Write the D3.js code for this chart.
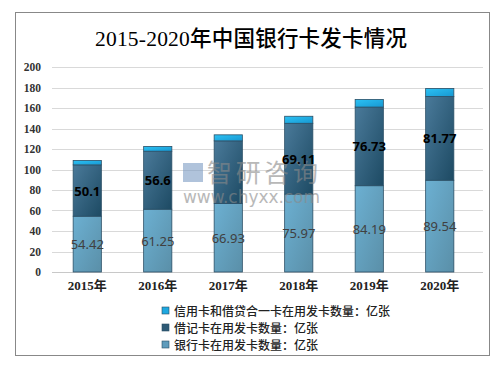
<!DOCTYPE html>
<html><head><meta charset="utf-8">
<script src="https://cdn.jsdelivr.net/npm/d3@7"></script>
<style>body{margin:0;background:#fff}</style>
</head><body>
<svg id="c" width="502" height="367"></svg>
<script>
const years = ["2015年","2016年","2017年","2018年","2019年","2020年"];
const bankCards = [54.42, 61.25, 66.93, 75.97, 84.19, 89.54];
const debitCards = [50.1, 56.6, 61.01, 69.11, 76.73, 81.77];
const creditCards = [4.32, 4.65, 5.88, 6.86, 7.46, 7.78];
const debitLabels = ["50.1","56.6","","69.11","76.73","81.77"];
const bankLabels = ["54.42","61.25","66.93","75.97","84.19","89.54"];
const yTicks = [0,20,40,60,80,100,120,140,160,180,200];
const seriesNames = ["信用卡和借贷合一卡在用发卡数量：亿张","借记卡在用发卡数量：亿张","银行卡在用发卡数量：亿张"];

const svg = d3.select("#c");
const defs = svg.append("defs");
function grad(id, c1, c2){
  const g = defs.append("linearGradient").attr("id",id).attr("x1","0").attr("y1","0").attr("x2","1").attr("y2","1");
  g.append("stop").attr("offset","0").attr("stop-color",c1);
  g.append("stop").attr("offset","1").attr("stop-color",c2);
}
grad("gBank","#6cb0d2","#5a8fa8");
grad("gDebit","#4a7a9a","#1d4a63");
grad("gCredit","#2cc2f4","#1798d2");

svg.append("rect").attr("x",15.5).attr("y",12.5).attr("width",474).attr("height",343)
  .attr("fill","#fff").attr("stroke","#888").attr("stroke-width",1);

svg.append("text").attr("x",251).attr("y",46).attr("text-anchor","middle")
  .attr("font-family","'Liberation Serif','Noto Sans CJK SC',serif").attr("font-size",21.5)
  .attr("font-weight",500).attr("fill","#000").attr("textLength",312).text("2015-2020年中国银行卡发卡情况");

const x = d3.scaleBand().domain(years).range([52,475]).paddingInner(0.6).paddingOuter(0.3);
const y = d3.scaleLinear().domain([0,200]).range([272,67]);

const grid = svg.append("g");
grid.selectAll("line").data(yTicks).join("line")
  .attr("x1",52).attr("x2",483).attr("y1",d=>Math.round(y(d))+0.5).attr("y2",d=>Math.round(y(d))+0.5)
  .attr("stroke",d=>d===0?"#c8c8c8":"#d9d9d9").attr("stroke-width",1);

const yAxis = d3.axisLeft(y).tickValues(yTicks).tickSize(0).tickPadding(0);
const ya = svg.append("g").attr("transform","translate(41,0)").call(yAxis);
ya.select(".domain").remove();
ya.selectAll("text").attr("font-family","'Liberation Serif',serif").attr("font-weight","bold")
  .attr("font-size",11.5).attr("fill","#333");

const xAxis = d3.axisBottom(x).tickSize(0).tickPadding(0);
const xa = svg.append("g").attr("transform","translate(0,281)").call(xAxis);
xa.select(".domain").remove();
xa.selectAll("text").attr("font-family","'Liberation Serif','Noto Sans CJK SC',serif").attr("font-weight","bold")
  .attr("font-size",13).attr("fill","#222");

const rows = years.map((yr,i)=>({yr, b:bankCards[i], d:debitCards[i], c:creditCards[i], i}));
const bars = svg.append("g");
rows.forEach(r=>{
  const x0 = x(r.yr), w = x.bandwidth();
  const segs = [
    {v0:0, v1:r.b, fill:"url(#gBank)"},
    {v0:r.b, v1:r.b+r.d, fill:"url(#gDebit)"},
    {v0:r.b+r.d, v1:r.b+r.d+r.c, fill:"url(#gCredit)"}
  ];
  segs.forEach(s=>{
    bars.append("rect").attr("x",x0).attr("width",w)
      .attr("y",y(s.v1)).attr("height",y(s.v0)-y(s.v1))
      .attr("fill",s.fill).attr("stroke","#2b4f66").attr("stroke-width",0.8);
  });
});
// watermark
const wm = svg.append("g").attr("opacity",0.6);
wm.append("rect").attr("x",183).attr("y",163).attr("width",20).attr("height",19).attr("fill","#7d9cc4");
wm.append("text").attr("x",207).attr("y",182)
  .attr("font-family","'Noto Sans CJK SC',sans-serif").attr("font-size",25).attr("fill","#8a8a8a")
  .attr("textLength",111).text("智研咨询");
wm.append("text").attr("x",183).attr("y",203)
  .attr("font-family","'DejaVu Sans',sans-serif").attr("font-size",17).attr("fill","#8a8a8a")
  .attr("textLength",137).text("www.chyxx.com");

rows.forEach(r=>{
  const x0 = x(r.yr), w = x.bandwidth();
  svg.append("text").attr("x",x0+w/2).attr("y",y(r.b/2)+5).attr("text-anchor","middle")
    .attr("font-family","'Noto Sans',sans-serif").attr("font-size",13).attr("fill","#404040")
    .text(bankLabels[r.i]);
  svg.append("text").attr("x",x0+w/2).attr("y",y(r.b+r.d/2)+5).attr("text-anchor","middle")
    .attr("font-family","'Noto Sans',sans-serif").attr("font-weight","bold").attr("font-size",13).attr("fill","#000")
    .text(debitLabels[r.i]);
});

const legColors = ["#1ea8e0","#2e5a76","#5f9cbc"];
const leg = svg.append("g");
seriesNames.forEach((n,i)=>{
  const yy = 311 + i*17;
  leg.append("rect").attr("x",162).attr("y",yy-4).attr("width",7).attr("height",7)
    .attr("fill",legColors[i]).attr("stroke","#2b4f66").attr("stroke-width",0.6);
  leg.append("text").attr("x",174).attr("y",yy+4.5)
    .attr("font-family","'Noto Sans CJK SC',sans-serif").attr("font-size",12).attr("font-weight",500).attr("fill","#222")
    .text(n);
});
</script>
</body></html>
